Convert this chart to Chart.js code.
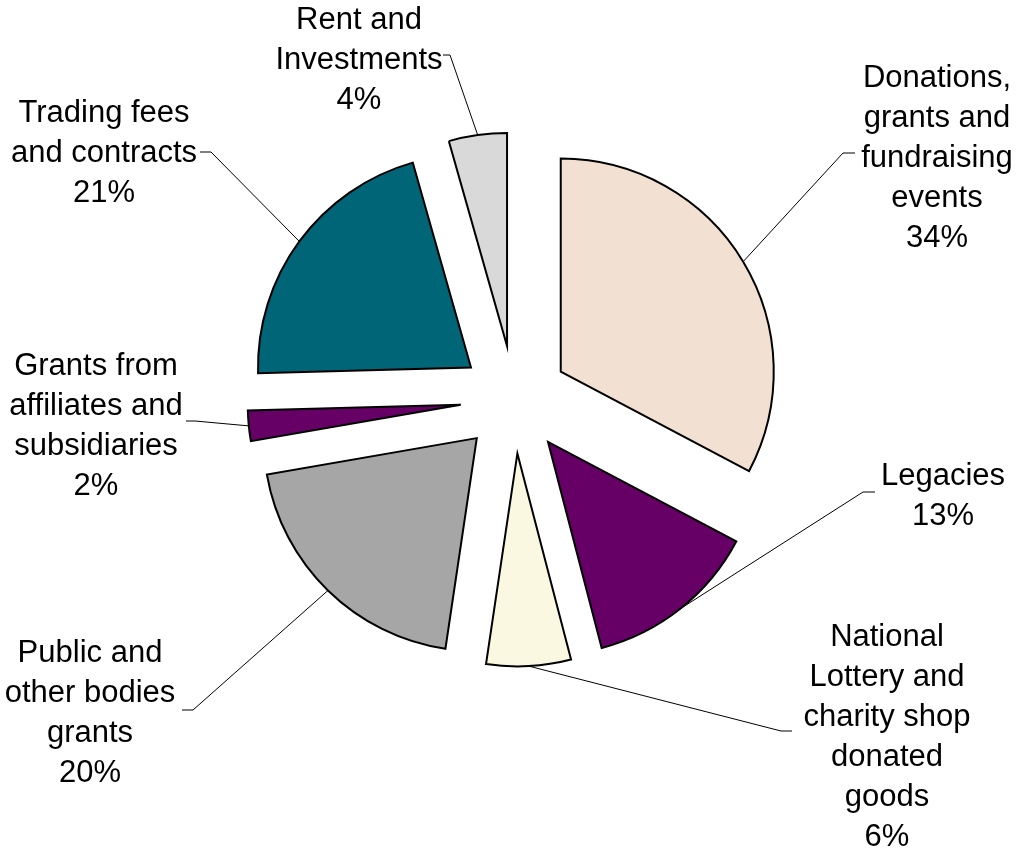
<!DOCTYPE html>
<html>
<head>
<meta charset="utf-8">
<title>Income sources</title>
<script src="https://cdn.jsdelivr.net/npm/chart.js@4.4.1/dist/chart.umd.min.js"></script>
<style>
  html, body { margin: 0; padding: 0; background: #fff; }
  #wrap { width: 1016px; height: 850px; position: relative; }
</style>
</head>
<body>
<div id="wrap"><canvas id="incomeChart" width="1016" height="850"></canvas></div>
<script>
// categories, split into the lines shown on the chart
var categories = [
    ["Donations,", "grants and", "fundraising", "events"],
    ["Legacies"],
    ["National", "Lottery and", "charity shop", "donated", "goods"],
    ["Public and", "other bodies", "grants"],
    ["Grants from", "affiliates and", "subsidiaries"],
    ["Trading fees", "and contracts"],
    ["Rent and", "Investments"]
];

// slice shares as drawn
var shares = [32.7, 13.2, 6.4, 19.9, 2.3, 21.0, 4.4];

// percentages as printed on the labels
var shareText = ["34%", "13%", "6%", "20%", "2%", "21%", "4%"];

var sliceColors = ["#F2E1D2", "#660066", "#FBF8E1", "#A6A6A6", "#660066", "#006677", "#D9D9D9"];

// label placement: text centre x, first baseline y, leader stub (x from, x to, y)
var labelLayout = [
    { x: 937, y: 87,  stub: [855, 843, 153] },
    { x: 943, y: 485, stub: [875, 863, 492] },
    { x: 887, y: 646, stub: [792, 781, 731] },
    { x: 90,  y: 662, stub: [182, 193, 710] },
    { x: 96,  y: 375, stub: [186, 195, 421] },
    { x: 104, y: 122, stub: [200, 211, 152] },
    { x: 359, y: 29,  stub: [443, 450, 55] }
];

var explodeBy = 54;
var lineHeight = 40;
var labelFont = '31px "Liberation Sans", Arial, sans-serif';

// push each slice out along its own mid angle (Excel style exploded pie)
var explodePlugin = {
    id: "explode",
    afterDatasetUpdate: function (chart, args) {
        args.meta.data.forEach(function (arc) {
            var mid = (arc.startAngle + arc.endAngle) / 2;
            arc.x += Math.cos(mid) * explodeBy;
            arc.y += Math.sin(mid) * explodeBy;
        });
    }
};

// category + percent labels with leader lines
var labelPlugin = {
    id: "sliceLabels",
    afterDraw: function (chart) {
        var ctx = chart.ctx;
        var arcs = chart.getDatasetMeta(0).data;
        ctx.save();
        arcs.forEach(function (arc, i) {
            var lay = labelLayout[i];
            var mid = (arc.startAngle + arc.endAngle) / 2;
            var ex = arc.x + Math.cos(mid) * arc.outerRadius;
            var ey = arc.y + Math.sin(mid) * arc.outerRadius;

            ctx.strokeStyle = "#000";
            ctx.lineWidth = 1;
            ctx.beginPath();
            ctx.moveTo(lay.stub[0], lay.stub[2]);
            ctx.lineTo(lay.stub[1], lay.stub[2]);
            ctx.lineTo(ex, ey);
            ctx.stroke();

            var lines = categories[i].concat([shareText[i]]);
            ctx.fillStyle = "#000";
            ctx.font = labelFont;
            ctx.textAlign = "center";
            ctx.textBaseline = "alphabetic";
            for (var k = 0; k < lines.length; k++) {
                ctx.fillText(lines[k], lay.x, lay.y + k * lineHeight);
            }
        });
        ctx.restore();
    }
};

function load() {
    new Chart("incomeChart", {
        type: "pie",
        data: {
            labels: categories,
            datasets: [
                {
                    data: shares,
                    backgroundColor: sliceColors,
                    borderColor: "#000",
                    borderWidth: 2,
                    borderJoinStyle: "miter"
                }
            ]
        },
        options: {
            responsive: false,
            animation: false,
            radius: 213,
            layout: { padding: { left: 113, right: 100, top: 50, bottom: 101 } },
            plugins: {
                legend: { display: false },
                tooltip: { enabled: false }
            }
        },
        plugins: [explodePlugin, labelPlugin]
    });
}

load();
</script>
</body>
</html>
